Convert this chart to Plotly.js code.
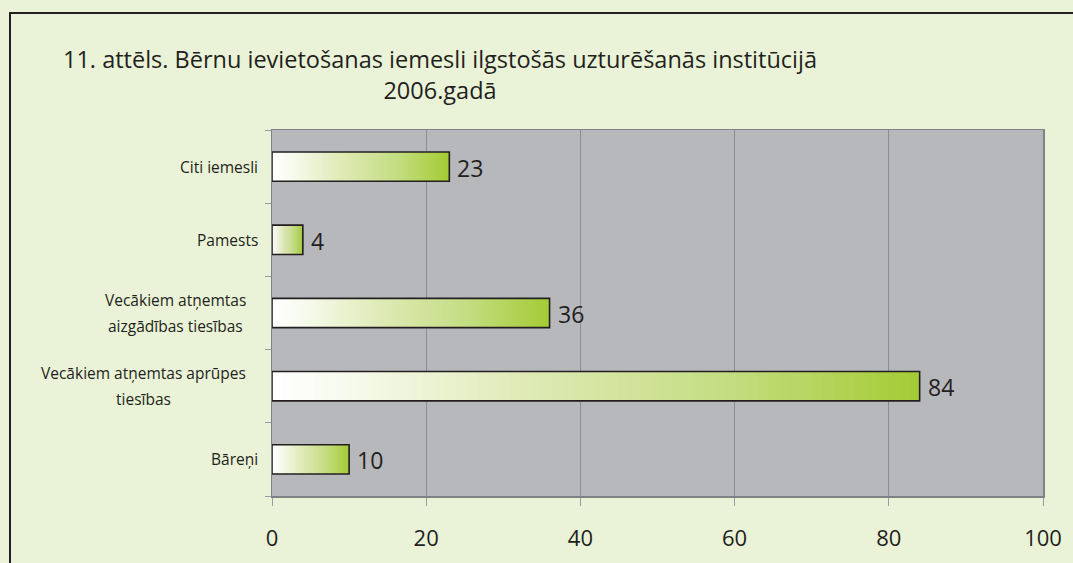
<!DOCTYPE html>
<html>
<head>
<meta charset="utf-8">
<script src="https://cdn.plot.ly/plotly-3.0.1.min.js"></script>
<style>
  html, body { margin: 0; padding: 0; background: #eaf3d7; overflow: hidden; }
  #chart { width: 1073px; height: 563px; }
</style>
</head>
<body>
<div id="chart"></div>
<script>
// Data (bottom to top)
const categories = [
  "Bāreņi",
  "Vecākiem atņemtas aprūpes<br>tiesības",
  "Vecākiem atņemtas<br>aizgādības tiesības",
  "Pamests",
  "Citi iemesli"
];
const values = [10, 84, 36, 4, 23];
const xTicks = [0, 20, 40, 60, 80, 100];
const titleText = "11. attēls. Bērnu ievietošanas iemesli ilgstošās uzturēšanās institūcijā<br>2006.gadā";

// geometry (pixels) for plot area
const W = 1073, H = 563;
const M = { l: 272, r: 30, t: 130, b: 67 };
const PW = W - M.l - M.r, PH = H - M.t - M.b;
const px2x = p => (p - M.l) / PW;
const px2y = p => (H - M.b - p) / PH;

// gradient stops (white -> green) along each bar
const stops = [
  [0.0, [255, 255, 255]],
  [0.12, [246, 250, 236]],
  [0.4, [222, 234, 180]],
  [0.7, [196, 221, 130]],
  [1.0, [164, 203, 52]]
];
function colorAt(t) {
  for (let i = 1; i < stops.length; i++) {
    if (t <= stops[i][0]) {
      const a = stops[i - 1], b = stops[i];
      const f = (t - a[0]) / (b[0] - a[0]);
      const c = a[1].map((v, j) => Math.round(v + (b[1][j] - v) * f));
      return `rgb(${c[0]},${c[1]},${c[2]})`;
    }
  }
  return "rgb(164,203,52)";
}

const N = 60;
const traces = [];
for (let k = 0; k < N; k++) {
  traces.push({
    type: "bar", orientation: "h",
    y: categories,
    base: values.map(v => v * k / N),
    x: values.map(v => Math.min(v * 1.6 / N, v - v * k / N)),
    marker: { color: colorAt((k + 0.5) / N), line: { width: 0 } },
    hoverinfo: "skip", showlegend: false
  });
}
// outline
traces.push({
  type: "bar", orientation: "h",
  y: categories, x: values,
  marker: { color: "rgba(0,0,0,0)", line: { color: "#231f20", width: 1.6 } },
  hoverinfo: "skip", showlegend: false
});

const FONT = "Open Sans, sans-serif";
const annotations = [];
// value labels
values.forEach((v, i) => {
  annotations.push({
    xref: "x", yref: "y", x: v, y: categories[i],
    xanchor: "left", yanchor: "middle", xshift: 6, yshift: -1,
    text: String(v), showarrow: false,
    font: { family: FONT, size: 23, color: "#231f20" }
  });
});
// category labels (each line centred under the widest line)
const labelSize = 15.5;
const cv = document.createElement("canvas").getContext("2d");
cv.font = labelSize + 'px "Open Sans", sans-serif';
const lineGap = 26;
categories.forEach((c) => {
  const lines = c.split("<br>");
  if (lines.length === 1) {
    annotations.push({
      xref: "paper", yref: "y", x: 0, y: c,
      xanchor: "right", yanchor: "middle", xshift: -12,
      text: c, showarrow: false,
      font: { family: FONT, size: labelSize, color: "#231f20" }
    });
  } else {
    const widths = lines.map(l => cv.measureText(l).width);
    const wmax = Math.max(...widths);
    lines.forEach((ln, i) => {
      annotations.push({
        xref: "paper", yref: "y", x: 0, y: c,
        xanchor: "right", yanchor: "middle",
        xshift: -24 - (wmax - widths[i]) / 2,
        yshift: ((lines.length - 1) / 2 - i) * lineGap,
        text: ln, showarrow: false,
        font: { family: FONT, size: labelSize, color: "#231f20" }
      });
    });
  }
});

// outer frame (left and top edges visible)
const shapes = [{
  type: "path", xref: "paper", yref: "paper",
  path: `M ${px2x(10)},${px2y(H + 5)} L ${px2x(10)},${px2y(13)} L ${px2x(W + 5)},${px2y(13)}`,
  line: { color: "#231f20", width: 2 }
}];

const layout = {
  width: W, height: H,
  margin: M,
  paper_bgcolor: "#eaf3d7",
  plot_bgcolor: "#b7b8bc",
  barmode: "overlay",
  bargap: 0.6,
  title: {
    text: titleText,
    x: 440 / W, xanchor: "center",
    y: 1 - 68 / H, yanchor: "top",
    font: { family: FONT, size: 23.5, color: "#231f20" }
  },
  xaxis: {
    range: [0, 100],
    tickvals: xTicks,
    ticktext: xTicks.map(String),
    showgrid: true, gridcolor: "#8c8d91", gridwidth: 1,
    ticks: "outside", ticklen: 8, tickcolor: "#9a9b9e",
    ticklabelstandoff: 14,
    tickfont: { family: FONT, size: 22, color: "#231f20" },
    showline: true, linecolor: "#808285", linewidth: 1.5, mirror: true,
    zeroline: false, fixedrange: true
  },
  yaxis: {
    type: "category",
    categoryorder: "array", categoryarray: categories,
    showticklabels: false,
    tickson: "boundaries",
    ticks: "outside", ticklen: 6, tickcolor: "#9a9b9e",
    showgrid: false,
    showline: true, linecolor: "#808285", linewidth: 1.5, mirror: true,
    fixedrange: true
  },
  annotations: annotations,
  shapes: shapes,
  font: { family: FONT, color: "#231f20" }
};

Plotly.newPlot("chart", traces, layout, { displayModeBar: false, staticPlot: true });
</script>
</body>
</html>
